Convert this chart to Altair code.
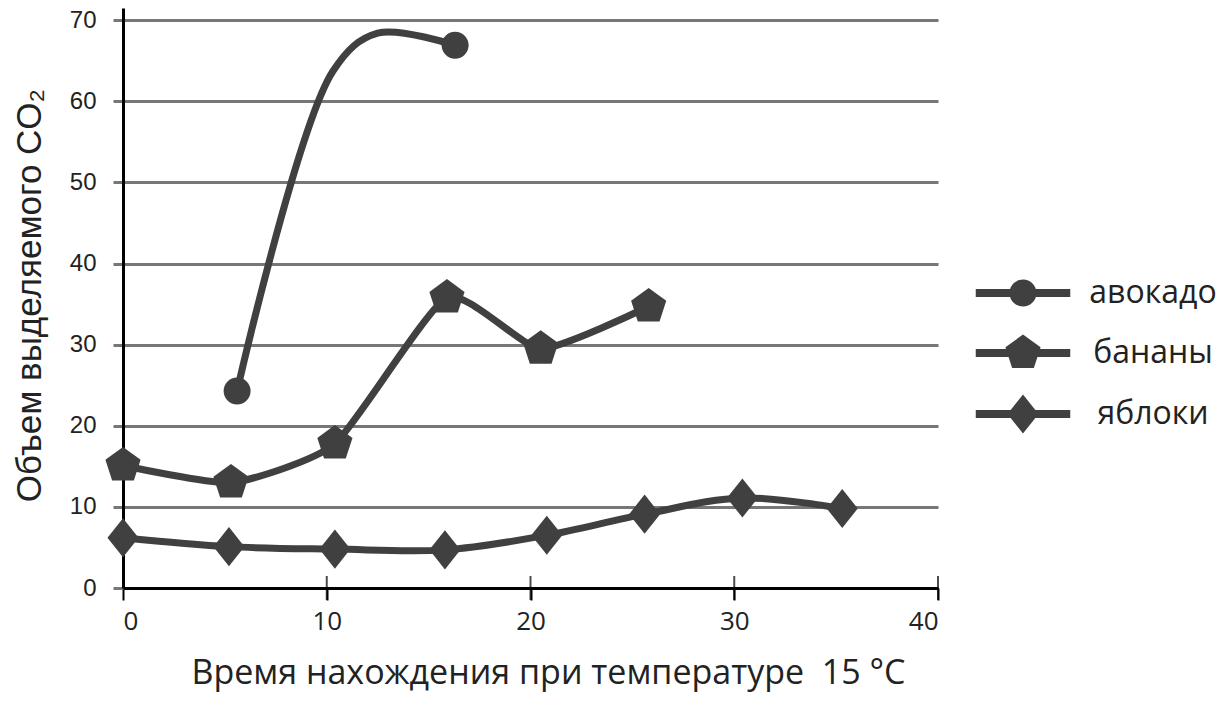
import altair as alt
import pandas as pd

series_names = ["авокадо", "бананы", "яблоки"]

avocado_x = [5.6, 10.3, 12.5, 16.3]
avocado_y = [24.3, 63.7, 68.4, 66.9]
avocado_marker = [1, 0, 0, 1]

banana_x = [0, 5.3, 10.4, 15.9, 20.5, 25.8]
banana_y = [15.1, 13.0, 17.8, 35.8, 29.5, 34.7]

apple_x = [0, 5.2, 10.4, 15.8, 20.8, 25.6, 30.4, 35.3]
apple_y = [6.2, 5.1, 4.8, 4.7, 6.5, 9.1, 11.1, 9.8]

x_ticks = [0, 10, 20, 30, 40]
x_cross_ticks = [10, 20, 30, 40]
y_ticks = [0, 10, 20, 30, 40, 50, 60, 70]

x_title = "Время нахождения при температуре\u00a0 15 °C"
y_title = "Объем выделяемого CO₂"

rows = []
for x, y, m in zip(avocado_x, avocado_y, avocado_marker):
    rows.append({"s": series_names[0], "x": x, "y": y, "m": m})
for x, y in zip(banana_x, banana_y):
    rows.append({"s": series_names[1], "x": x, "y": y, "m": 1})
for x, y in zip(apple_x, apple_y):
    rows.append({"s": series_names[2], "x": x, "y": y, "m": 1})
df = pd.DataFrame(rows)
ticks_df = pd.DataFrame({"x": x_cross_ticks, "y": [0] * len(x_cross_ticks)})

INK = "#404040"

circle = "M-1,0A1,1 0 1,1 1,0A1,1 0 1,1 -1,0Z"
pentagon = "M0,-1.37L1.303,-0.423L0.805,1.108L-0.805,1.108L-1.303,-0.423Z"
diamond = "M0,-1.45L1.15,0L0,1.45L-1.15,0Z"
bar = "M-3.5,-0.3H3.5V0.3H-3.5Z "

xscale = alt.Scale(domain=[0, 40], nice=False, zero=False)
yscale = alt.Scale(domain=[0, 71.5], nice=False, zero=False)

x_axis = alt.Axis(
    values=x_ticks, format="d", grid=False,
    domainColor="black", domainWidth=3,
    tickColor="black", tickWidth=2, tickSize=12,
    labelFont="Open Sans", labelFontSize=26, labelColor="#222",
    labelPadding=8,
    title=x_title, titleFont="Open Sans", titleFontSize=34, titleFontWeight="normal",
    titleColor="#222", titleX=425, titleY=95, titleBaseline="alphabetic", titleAlign="center",
)
y_axis = alt.Axis(
    values=y_ticks, format="d", grid=True,
    gridColor="#777777", gridWidth=3,
    domainColor="black", domainWidth=3,
    tickColor="#777777", tickWidth=3, tickSize=10,
    labelFont="Liberation Sans", labelFontSize=24, labelColor="#222",
    labelPadding=17,
    title=y_title, titleFont="Liberation Sans", titleFontSize=35, titleFontWeight="normal",
    titleColor="#222", titleX=-94, titleY=287, titleAngle=270,
    titleBaseline="middle", titleAlign="center",
)


def line_layer(name, interp, tension=None):
    kw = dict(interpolate=interp, strokeWidth=7, color=INK, strokeCap="round")
    if tension is not None:
        kw["tension"] = tension
    return alt.Chart(df).transform_filter(
        alt.datum.s == name
    ).mark_line(**kw).encode(
        x=alt.X("x:Q", scale=xscale, axis=x_axis),
        y=alt.Y("y:Q", scale=yscale, axis=y_axis),
    )


line_avo = line_layer(series_names[0], "catmull-rom")
line_ban = line_layer(series_names[1], "cardinal", 0.45)
line_app = line_layer(series_names[2], "catmull-rom")

points = alt.Chart(df).transform_filter("datum.m == 1").mark_point(
    filled=True, color=INK, opacity=1, size=729, strokeWidth=0
).encode(
    x="x:Q",
    y="y:Q",
    shape=alt.Shape("s:N", scale=alt.Scale(domain=series_names, range=[circle, pentagon, diamond]), legend=None),
)

legend_layer = alt.Chart(df).transform_filter("false").mark_point(
    filled=True, color=INK, opacity=1, size=729
).encode(
    x="x:Q",
    y="y:Q",
    shape=alt.Shape(
        "s:N",
        scale=alt.Scale(domain=series_names, range=[bar + circle, bar + pentagon, bar + diamond]),
        legend=alt.Legend(
            title=None, orient="none", legendX=884, legendY=269,
            symbolSize=729, symbolFillColor=INK, symbolStrokeWidth=0,
            labelFont="Open Sans", labelFontSize=32, labelColor="#222",
            labelAlign="center", labelOffset=114, labelLimit=400,
            rowPadding=25, padding=0,
        ),
    ),
)

cross = alt.Chart(ticks_df).mark_tick(
    orient="vertical", size=24, thickness=2, color="black"
).encode(x="x:Q", y="y:Q")

chart = alt.layer(line_avo, line_ban, line_app, cross, points, legend_layer).resolve_scale(
    shape="independent"
).properties(
    width=815, height=580,
    autosize=alt.AutoSizeParams(type="none"),
    padding={"left": 115, "top": 0, "right": 283, "bottom": 110},
).configure_view(stroke=None)

chart.save("out.html", embed_options={"renderer": "svg", "actions": False})
